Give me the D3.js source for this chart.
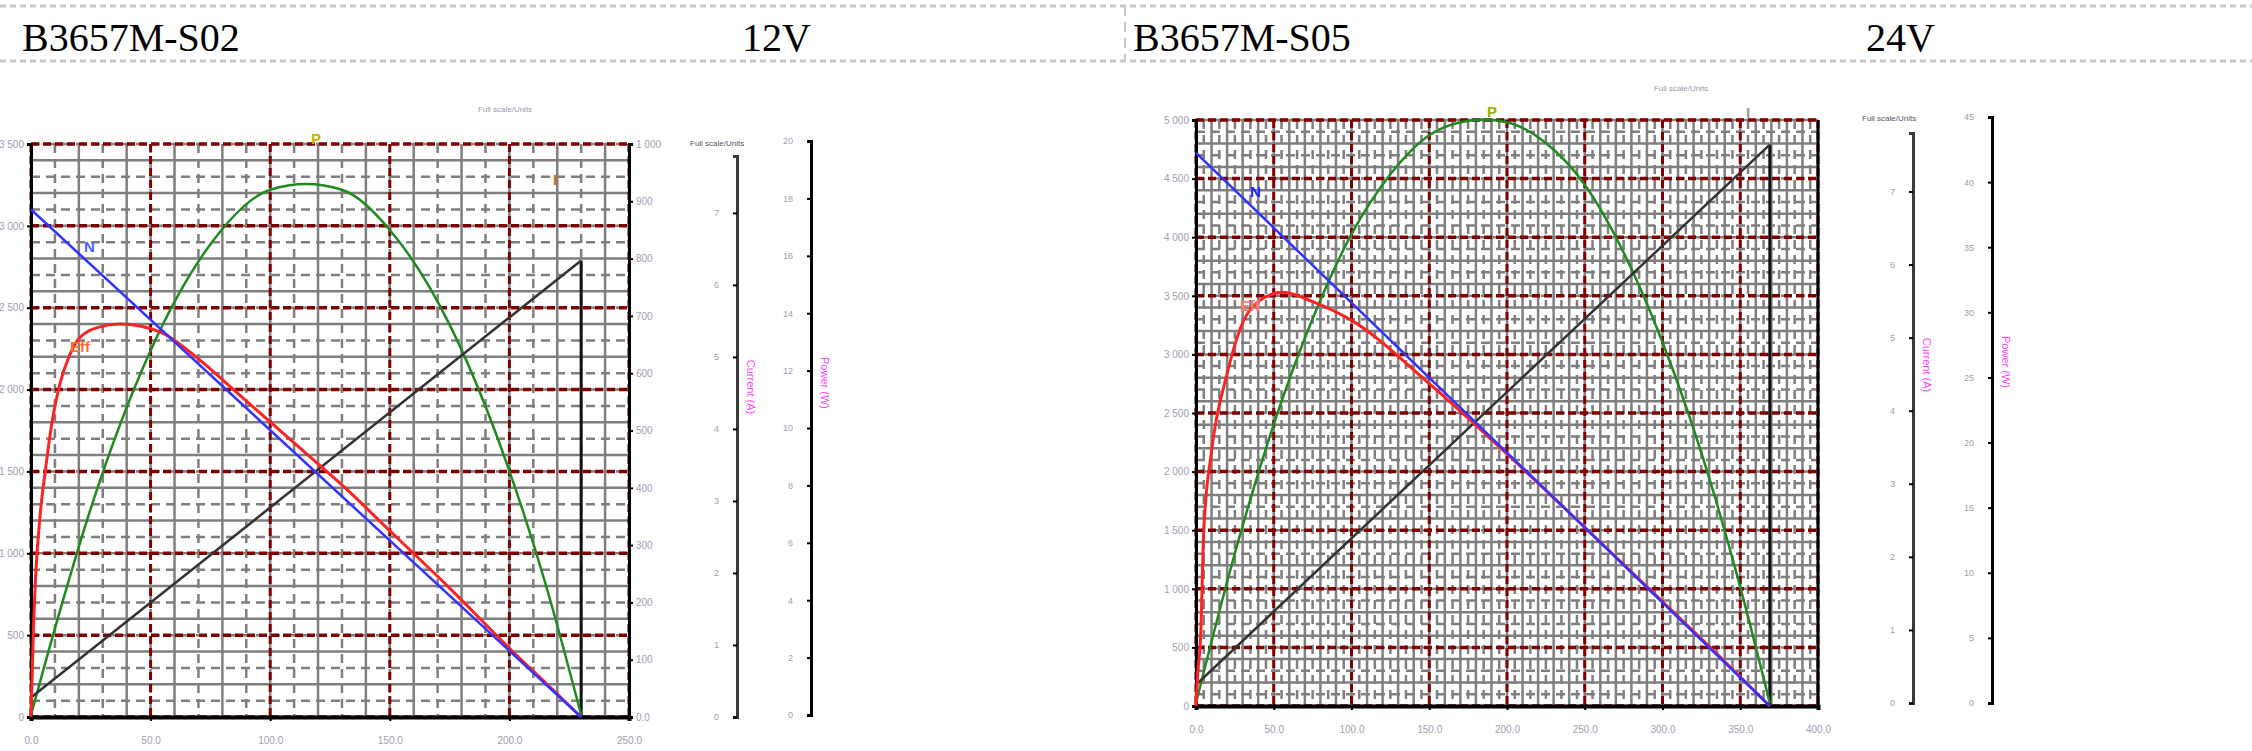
<!DOCTYPE html>
<html>
<head>
<meta charset="utf-8">
<script src="https://cdn.jsdelivr.net/npm/d3@7"></script>
<style>
  body { margin: 0; background: #fff; }
  text { font-family: "Liberation Sans", Arial, sans-serif; }
</style>
</head>
<body>
<svg id="c" width="2252" height="751"></svg>
<script>
// ---- data: torque (mN·m) vs speed, efficiency, power, current ----
// B3657M-S02, 12V
var s02Torque = [0, 230];
var s02Speed = [3100, 0];
var s02Current = [0.27, 6.34];
var s02EffTorque = [0, 1, 2, 4, 6, 9, 12, 16, 20, 28, 37, 46, 55, 70, 85, 100, 115, 130, 150, 175, 200, 215, 230];
var s02Eff = [0, 15, 25, 36, 43, 52, 58, 63, 66, 68, 68.6, 68.2, 67, 62.5, 57, 51.5, 46, 40.5, 32.5, 22.5, 12, 6, 0];
var s02PowTorque = [0, 12, 25, 50, 75, 100, 115, 130, 150, 175, 200, 215, 230];
var s02Power = [0, 3.6, 7.2, 12.7, 16.4, 18.3, 18.5, 18.3, 16.9, 13.6, 8.5, 4.6, 0];

// B3657M-S05, 24V
var s05Torque = [0, 369];
var s05Speed = [4720, 0];
var s05Current = [0.25, 7.64];
var s05EffTorque = [0, 1, 3, 5, 10, 20, 30, 40, 56, 75, 100, 150, 200, 250, 300, 340, 369];
var s05Eff = [0, 5, 12, 30, 43.5, 56.7, 65.4, 69, 70.6, 69, 65.8, 55, 43, 30.5, 17.8, 7.6, 0];
var s05PowTorque = [0, 25, 50, 75, 100, 125, 150, 170, 185, 200, 225, 250, 275, 300, 325, 350, 369];
var s05Power = [0, 11.5, 21.4, 29.5, 36.0, 40.6, 43.6, 44.6, 44.8, 44.6, 43.0, 39.8, 34.6, 27.7, 19.2, 8.9, 0];

var s02XTicks = [0, 50, 100, 150, 200, 250];
var s05XTicks = [0, 50, 100, 150, 200, 250, 300, 350, 400];
var s02CurTicks = [0, 1, 2, 3, 4, 5, 6, 7];
var s05CurTicks = [0, 1, 2, 3, 4, 5, 6, 7];
var s02PowTicks = [0, 2, 4, 6, 8, 10, 12, 14, 16, 18, 20];
var s05PowTicks = [0, 5, 10, 15, 20, 25, 30, 35, 40, 45];

var svg = d3.select("#c");
var DARK = "#800000", GRAY = "#7f7f7f";

// header band
var hdr = svg.append("g");
hdr.selectAll("line.h").data([6, 61]).join("line")
  .attr("x1", 0).attr("x2", 2252).attr("y1", d => d).attr("y2", d => d)
  .attr("stroke", "#c8c8c8").attr("stroke-width", 3).attr("stroke-dasharray", "6,4");
hdr.append("line").attr("x1", 1125).attr("x2", 1125).attr("y1", 6).attr("y2", 61)
  .attr("stroke", "#c8c8c8").attr("stroke-width", 2).attr("stroke-dasharray", "10,6");
[["B3657M-S02", 22], ["12V", 742], ["B3657M-S05", 1133], ["24V", 1866]].forEach(function(t) {
  hdr.append("text").attr("x", t[1]).attr("y", 51).text(t[0])
    .style("font-family", "'Liberation Serif', 'Times New Roman', serif")
    .style("font-size", "40px").attr("fill", "#000");
});

function drawChart(cfg) {
  var g = svg.append("g");
  var x = d3.scaleLinear().domain([0, cfg.xMax]).range([cfg.left, cfg.right]);
  var y = d3.scaleLinear().domain([0, cfg.yMax]).range([cfg.bottom, cfg.top]);
  var eff = d3.scaleLinear().domain([0, 100]).range([cfg.bottom, cfg.top]);
  var cur = d3.scaleLinear().domain([0, cfg.curMax]).range([cfg.curBottom, cfg.curTop]);
  var pow = d3.scaleLinear().domain([0, cfg.powMax]).range([cfg.powBottom, cfg.powTop]);

  // gray minor grid
  var hMinor = d3.range(0, cfg.yMax + 1, cfg.yMinor);
  g.selectAll("line.hm").data(hMinor).join("line")
    .attr("x1", cfg.left).attr("x2", cfg.right)
    .attr("y1", d => y(d)).attr("y2", d => y(d))
    .attr("stroke", GRAY).attr("stroke-width", 2.5)
    .attr("stroke-dasharray", (d, i) => i % 2 ? "9,6" : null);
  var vMinor = d3.range(0, cfg.xMax + 1, cfg.xMinor);
  g.selectAll("line.vm").data(vMinor).join("line")
    .attr("x1", d => x(d)).attr("x2", d => x(d))
    .attr("y1", cfg.top).attr("y2", cfg.bottom)
    .attr("stroke", GRAY).attr("stroke-width", 2.5)
    .attr("stroke-dasharray", (d, i) => i % 2 ? "9,6" : null);
  // dark red major grid
  var hMajor = d3.range(0, cfg.yMax + 1, cfg.yStep);
  g.selectAll("line.hM").data(hMajor).join("line")
    .attr("x1", cfg.left).attr("x2", cfg.right)
    .attr("y1", d => y(d)).attr("y2", d => y(d))
    .attr("stroke", DARK).attr("stroke-width", 3.5).attr("stroke-dasharray", "8,4");
  g.selectAll("line.vM").data(cfg.xTicks).join("line")
    .attr("x1", d => x(d)).attr("x2", d => x(d))
    .attr("y1", cfg.top).attr("y2", cfg.bottom)
    .attr("stroke", DARK).attr("stroke-width", 3).attr("stroke-dasharray", "8,4");

  // frame axes
  g.append("g").attr("transform", "translate(" + cfg.left + ",0)")
    .call(d3.axisLeft(y).tickValues(hMajor).tickSize(4).tickFormat(d => d === 0 ? "0" : d3.format(",")(d).replace(",", " ")))
    .call(a => a.select(".domain").attr("stroke", "#000").attr("stroke-width", 3));
  g.append("g").attr("transform", "translate(0," + cfg.bottom + ")")
    .call(d3.axisBottom(x).tickValues(cfg.xTicks).tickSize(4).tickPadding(16).tickFormat(d3.format(".1f")))
    .call(a => a.select(".domain").attr("stroke", "#000").attr("stroke-width", 4));
  if (cfg.rightLabels) {
    var r = d3.scaleLinear().domain([0, 1000]).range([cfg.bottom, cfg.top]);
    g.append("g").attr("transform", "translate(" + cfg.right + ",0)")
      .call(d3.axisRight(r).ticks(10).tickSize(4).tickFormat(d => d === 0 ? "0.0" : d === 1000 ? "1 000" : d))
      .call(a => a.select(".domain").attr("stroke", "#000").attr("stroke-width", 3));
  } else {
    g.append("line").attr("x1", cfg.right).attr("x2", cfg.right).attr("y1", cfg.top).attr("y2", cfg.bottom)
      .attr("stroke", "#000").attr("stroke-width", 3);
  }
  g.selectAll(".tick text").attr("fill", "#a0a0b0").style("font-size", "10px");

  // stall torque line
  g.append("line").attr("x1", x(cfg.torque[1])).attr("x2", x(cfg.torque[1]))
    .attr("y1", cur(cfg.current[1])).attr("y2", cfg.bottom)
    .attr("stroke", "#111").attr("stroke-width", 3);

  var line = (ys) => d3.line().x(d => x(d[0])).y(d => ys(d[1]));
  var zip = (a, b) => a.map((v, i) => [v, b[i]]);
  g.append("path").datum(zip(cfg.powT, cfg.power)).attr("d", line(pow).curve(d3.curveMonotoneX))
    .attr("fill", "none").attr("stroke", "#1f8a1f").attr("stroke-width", 2.5);
  g.append("path").datum(zip(cfg.torque, cfg.current)).attr("d", line(cur))
    .attr("fill", "none").attr("stroke", "#333").attr("stroke-width", 2.5);
  g.append("path").datum(zip(cfg.effT, cfg.eff)).attr("d", line(eff).curve(d3.curveMonotoneX))
    .attr("fill", "none").attr("stroke", "#ff2222").attr("stroke-width", 3);
  g.append("path").datum(zip(cfg.torque, cfg.speed)).attr("d", line(y))
    .attr("fill", "none").attr("stroke", "#3333ff").attr("stroke-width", 2.5);

  // curve labels
  cfg.labels.forEach(function(l) {
    g.append("text").attr("x", l[1]).attr("y", l[2]).text(l[0]).attr("fill", l[3])
      .style("font-size", "15px").style("font-weight", "bold");
  });

  // side scales
  g.append("text").attr("x", cfg.titleX).attr("y", cfg.titleY).text("Full scale/Units")
    .attr("text-anchor", "middle").attr("fill", "#9a9aa8").style("font-size", "8px");
  g.append("text").attr("x", cfg.fsX).attr("y", cfg.fsY).text("Full scale/Units")
    .attr("fill", "#556").style("font-size", "8px");
  var ca = g.append("g").attr("transform", "translate(" + cfg.curX + ",0)")
    .call(d3.axisLeft(cur).tickValues(cfg.curTicks).tickSize(4).tickPadding(14));
  ca.select(".domain").attr("stroke", "#3a3a3a").attr("stroke-width", 3);
  var pa = g.append("g").attr("transform", "translate(" + cfg.powX + ",0)")
    .call(d3.axisLeft(pow).tickValues(cfg.powTicks).tickSize(4).tickPadding(14));
  pa.select(".domain").attr("stroke", "#000").attr("stroke-width", 3);
  g.selectAll(".tick line").attr("stroke", "#000").attr("stroke-width", 2);
  [ca, pa].forEach(a => a.selectAll(".tick text").attr("fill", "#a0a0b0").style("font-size", "9px"));
  [["Current (A)", cfg.curX + 10, cfg.curLabelY], ["Power (W)", cfg.powX + 10, cfg.powLabelY]].forEach(function(t) {
    g.append("text").attr("transform", "translate(" + t[1] + "," + t[2] + ") rotate(90)")
      .text(t[0]).attr("text-anchor", "middle").attr("fill", "#ff44ff").style("font-size", "11px");
  });
}

drawChart({
  left: 31, right: 629, top: 144, bottom: 717,
  xMax: 250, yMax: 3500, yStep: 500, yMinor: 100, xMinor: 10, xTicks: s02XTicks,
  curMax: 7.79, curTop: 156, curBottom: 717, curX: 737, curTicks: s02CurTicks,
  powMax: 20, powTop: 141, powBottom: 715, powX: 811, powTicks: s02PowTicks,
  rightLabels: true,
  torque: s02Torque, speed: s02Speed, current: s02Current,
  effT: s02EffTorque, eff: s02Eff, powT: s02PowTorque, power: s02Power,
  labels: [["P", 311, 144, "#c8b400"], ["I", 553, 185, "#c07020"], ["N", 84, 252, "#4466ff"], ["Eff", 70, 352, "#ff7030"]],
  titleX: 505, titleY: 112, fsX: 690, fsY: 146, curLabelY: 387, powLabelY: 383
});

drawChart({
  left: 1196, right: 1818, top: 120, bottom: 706,
  xMax: 400, yMax: 5000, yStep: 500, yMinor: 100, xMinor: 5, xTicks: s05XTicks,
  curMax: 7.8, curTop: 133, curBottom: 703, curX: 1913, curTicks: s05CurTicks,
  powMax: 45, powTop: 117, powBottom: 703, powX: 1992, powTicks: s05PowTicks,
  rightLabels: false,
  torque: s05Torque, speed: s05Speed, current: s05Current,
  effT: s05EffTorque, eff: s05Eff, powT: s05PowTorque, power: s05Power,
  labels: [["P", 1487, 117, "#9ab000"], ["I", 1746, 118, "#999"], ["N", 1250, 197, "#2222ff"], ["Eff", 1240, 311, "#ff8070"]],
  titleX: 1681, titleY: 91, fsX: 1862, fsY: 121, curLabelY: 365, powLabelY: 362
});
</script>
</body>
</html>
